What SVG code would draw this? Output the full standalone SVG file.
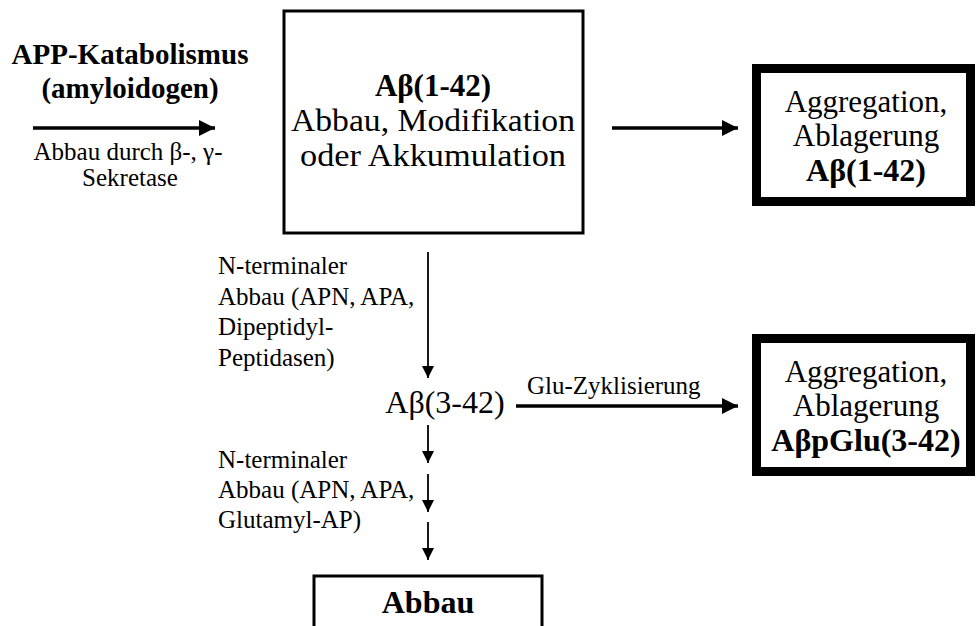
<svg xmlns="http://www.w3.org/2000/svg" width="977" height="626" viewBox="0 0 977 626">
<defs>
<style>
text{font-family:"Liberation Serif","Times New Roman",Times,serif;fill:#000}
.bb{font-size:32px;font-weight:bold}
.big{font-size:31px}
.mid{font-size:31px}
.sm{font-size:25px}
.c{text-anchor:middle}
.thin{fill:none;stroke:#000;stroke-width:3}
.thick{fill:none;stroke:#000;stroke-width:9}
.h{stroke:#000;stroke-width:3.5;fill:none}
.v{stroke:#000;stroke-width:1.8;fill:none}
</style>
<marker id="ahL" viewBox="0 0 10 10" refX="10" refY="5" markerWidth="16" markerHeight="16" markerUnits="userSpaceOnUse" orient="auto" preserveAspectRatio="none"><path d="M0,0 L10,5 L0,10 z" fill="#000"/></marker>
<marker id="ahS" viewBox="0 0 10 10" refX="10" refY="5" markerWidth="12" markerHeight="12" markerUnits="userSpaceOnUse" orient="auto" preserveAspectRatio="none"><path d="M0,0 L10,5 L0,10 z" fill="#000"/></marker>
</defs>
<rect width="977" height="626" fill="#fff"/>
<g id="connectors">
<line class="h" x1="33" y1="128" x2="215" y2="128" marker-end="url(#ahL)"/>
<line class="h" x1="612" y1="128" x2="738" y2="128" marker-end="url(#ahL)"/>
<line class="v" x1="428" y1="252" x2="428" y2="378" marker-end="url(#ahS)"/>
<line class="h" x1="516" y1="406" x2="738" y2="406" marker-end="url(#ahL)"/>
<line class="v" x1="428" y1="425" x2="428" y2="463" marker-end="url(#ahS)"/>
<line class="v" x1="428" y1="474" x2="428" y2="512" marker-end="url(#ahS)"/>
<line class="v" x1="428" y1="522" x2="428" y2="560" marker-end="url(#ahS)"/>
</g>
<g id="label-app">
<text class="bb c" style="font-size:29px"><tspan x="130" y="64">APP-Katabolismus</tspan><tspan x="130" y="98">(amyloidogen)</tspan></text>
<text class="sm c"><tspan x="128" y="160">Abbau durch β-, γ-</tspan><tspan x="130" y="186">Sekretase</tspan></text>
</g>
<g id="node-abeta142">
<rect class="thin" x="284" y="11" width="299" height="222"/>
<text class="big c"><tspan x="433" y="96" style="font-weight:bold">Aβ(1-42)</tspan><tspan x="433" y="131" textLength="284" lengthAdjust="spacingAndGlyphs">Abbau, Modifikation</tspan><tspan x="433" y="166" textLength="266" lengthAdjust="spacingAndGlyphs">oder Akkumulation</tspan></text>
</g>
<g id="node-agg1">
<rect class="thick" x="756.5" y="68.5" width="214" height="133"/>
<text class="mid c"><tspan x="866" y="112">Aggregation,</tspan><tspan x="866" y="146">Ablagerung</tspan><tspan x="866" y="181" style="font-weight:bold;font-size:32px">Aβ(1-42)</tspan></text>
</g>
<g id="label-nterm1">
<text class="sm"><tspan x="218" y="274">N-terminaler</tspan><tspan x="218" y="305">Abbau (APN, APA,</tspan><tspan x="218" y="335">Dipeptidyl-</tspan><tspan x="218" y="366">Peptidasen)</tspan></text>
</g>
<g id="node-abeta342">
<text class="c" x="445" y="413" style="font-size:32px">Aβ(3-42)</text>
</g>
<g id="label-glu">
<text class="sm" x="527" y="394">Glu-Zyklisierung</text>
</g>
<g id="node-agg2">
<rect class="thick" x="756.5" y="338.5" width="214" height="133"/>
<text class="mid c"><tspan x="866" y="382">Aggregation,</tspan><tspan x="866" y="416">Ablagerung</tspan><tspan x="866" y="451" style="font-weight:bold;font-size:32px">AβpGlu(3-42)</tspan></text>
</g>
<g id="label-nterm2">
<text class="sm"><tspan x="218" y="468">N-terminaler</tspan><tspan x="218" y="498">Abbau (APN, APA,</tspan><tspan x="218" y="528">Glutamyl-AP)</tspan></text>
</g>
<g id="node-abbau">
<path class="thin" d="M314,627 V576 H542 V627"/>
<text class="bb c" x="428" y="613">Abbau</text>
</g>
</svg>
